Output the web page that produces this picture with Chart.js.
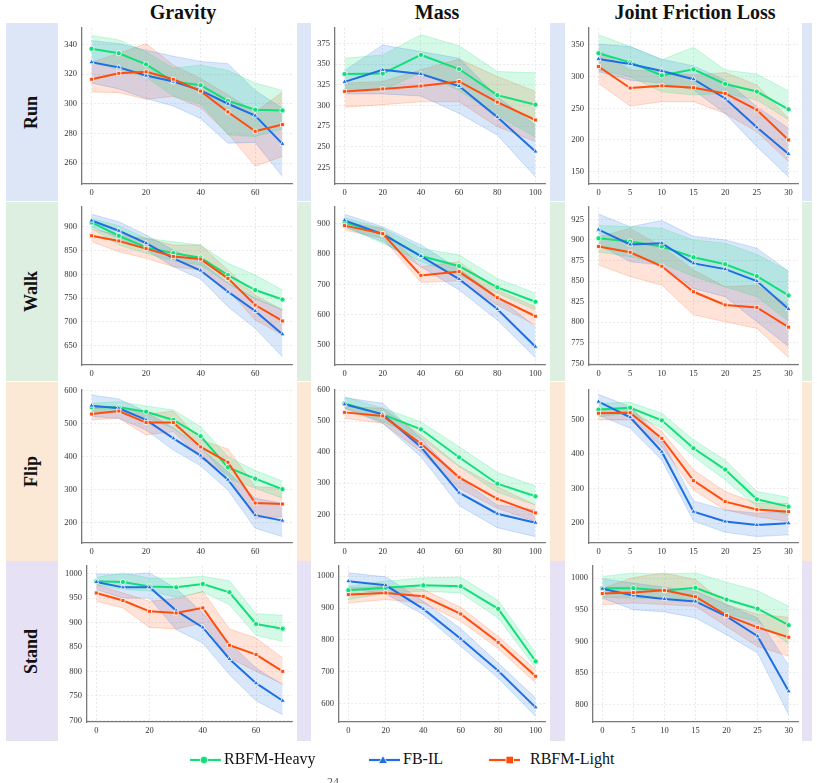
<!DOCTYPE html>
<html><head><meta charset="utf-8">
<script src="https://cdn.jsdelivr.net/npm/chart.js@4.4.1/dist/chart.umd.min.js"></script>
<style>
body{margin:0;width:817px;height:783px;position:relative;overflow:hidden;background:#fff;font-family:"Liberation Serif","Times New Roman",serif;color:#111;}
.row{position:absolute;left:6px;width:806px;}
.panel{position:absolute;background:#fff;}
.rowlabel{position:absolute;left:6px;width:52px;display:flex;align-items:center;justify-content:center;}
.rowlabel span{transform:rotate(-90deg);font-weight:bold;font-size:18px;white-space:nowrap;display:block;}
.coltitle{position:absolute;top:1px;font-weight:bold;font-size:20px;transform:translateX(-50%);white-space:nowrap;}
canvas{position:absolute;}
.leg{position:absolute;font-size:16px;white-space:nowrap;}
</style>
</head><body>
<script>
// ---------- categories / ticks ----------
const rowNames = ["Run", "Walk", "Flip", "Stand"];
const colNames = ["Gravity", "Mass", "Joint Friction Loss"];
const seriesNames = ["RBFM-Heavy", "FB-IL", "RBFM-Light"];
const gravityX = [0, 10, 20, 30, 40, 50, 60, 70];
const massX = [0, 20, 40, 60, 80, 100];
const frictionX = [0, 5, 10, 15, 20, 25, 30];
const gravityTicks = [0, 20, 40, 60];
const massTicks = [0, 20, 40, 60, 80, 100];
const frictionTicks = [0, 5, 10, 15, 20, 25, 30];

const runGravityTicks = [260, 280, 300, 320, 340];
const runMassTicks = [225, 250, 275, 300, 325, 350, 375];
const runFrictionTicks = [150, 200, 250, 300, 350];
const walkGravityTicks = [650, 700, 750, 800, 850, 900];
const walkMassTicks = [500, 600, 700, 800, 900];
const walkFrictionTicks = [750, 775, 800, 825, 850, 875, 900, 925];
const flipGravityTicks = [200, 300, 400, 500, 600];
const flipMassTicks = [200, 300, 400, 500, 600];
const flipFrictionTicks = [200, 300, 400, 500];
const standGravityTicks = [700, 750, 800, 850, 900, 950, 1000];
const standMassTicks = [600, 700, 800, 900, 1000];
const standFrictionTicks = [800, 850, 900, 950, 1000];

// ---------- Run ----------
const runGravityHeavy   = [337, 334, 326.5, 315, 312.5, 302, 296, 295.5];
const runGravityHeavyLo = [328, 323, 318, 305, 300, 279, 278, 283];
const runGravityHeavyHi = [346, 343, 335, 324, 326, 322.5, 314, 309];
const runGravityFB      = [328, 324.5, 319, 315, 309, 300, 292, 273];
const runGravityFBLo    = [314, 310, 303.5, 298.5, 290, 273.5, 274, 251];
const runGravityFBHi    = [342.5, 340.5, 336, 332, 328.5, 327, 309, 297];
const runGravityLight   = [316.5, 320.5, 321.5, 316.5, 308.5, 294.5, 281.5, 286];
const runGravityLightLo = [308, 307.5, 303, 305, 297.5, 280, 258, 264.5];
const runGravityLightHi = [328, 334, 340.5, 326, 317, 306, 294.5, 308];

const runMassHeavy   = [338, 338.5, 361, 344, 312.5, 301];
const runMassHeavyLo = [320, 318, 340, 318, 288, 262];
const runMassHeavyHi = [357, 361, 385.5, 372, 341, 339.5];
const runMassFB      = [328.5, 343, 338, 323.5, 286, 244.5];
const runMassFBLo    = [314, 314, 311.5, 290.5, 264.5, 214];
const runMassFBHi    = [342, 373, 365, 357, 310.5, 276.5];
const runMassLight   = [317, 320, 323.5, 329, 304, 282.5];
const runMassLightLo = [298, 301, 304.5, 304.5, 274.5, 256.5];
const runMassLightHi = [327, 329, 343, 356, 335, 317];

const runFrictionHeavy   = [337, 322.5, 302, 311.5, 288.5, 276.5, 248.5];
const runFrictionHeavyLo = [310.5, 300, 276, 271, 273.5, 263, 232];
const runFrictionHeavyHi = [366, 347.5, 326.5, 346.5, 310.5, 304, 277.5];
const runFrictionFB      = [328, 320, 309, 296, 265.5, 220, 178];
const runFrictionFBLo    = [308, 294.5, 289.5, 279, 242, 189.5, 142];
const runFrictionFBHi    = [351.5, 347.5, 327.5, 317, 294.5, 252.5, 218.5];
const runFrictionLight   = [316, 282, 285.5, 282.5, 273.5, 247.5, 200];
const runFrictionLightLo = [289.5, 253.5, 260.5, 260.5, 242, 213, 166];
const runFrictionLightHi = [342, 310.5, 308, 302.5, 306.5, 287, 234];

// ---------- Walk ----------
const walkGravityHeavy   = [909, 881, 856.5, 844.5, 835, 798.5, 767, 747];
const walkGravityHeavyLo = [896.5, 861.5, 844, 828, 819.5, 781, 749.5, 726];
const walkGravityHeavyHi = [917.5, 902, 875.5, 868.5, 861.5, 823, 798.5, 767];
const walkGravityFB      = [913, 891.5, 865.5, 833.5, 808, 763.5, 723, 674];
const walkGravityFBLo    = [900, 875.5, 851, 816, 790, 732, 686.5, 627];
const walkGravityFBHi    = [926, 910.5, 882.5, 851, 826.5, 781, 749.5, 725];
const walkGravityLight   = [881, 870, 854, 837.5, 832, 791.5, 735.5, 702];
const walkGravityLightLo = [868.5, 847.5, 833.5, 816, 809, 767, 704, 672.5];
const walkGravityLightHi = [895, 882.5, 875.5, 861.5, 861.5, 809, 756.5, 725];

const walkMassHeavy   = [905.5, 866, 794, 761, 690.5, 643];
const walkMassHeavyLo = [891, 836, 775.5, 731.5, 671, 615.5];
const walkMassHeavyHi = [921, 885.5, 819.5, 797.5, 720, 671];
const walkMassFB      = [912, 866, 794, 718, 619, 494.5];
const walkMassFBLo    = [891, 841.5, 759, 682, 582.5, 458];
const walkMassFBHi    = [932, 891, 830.5, 751, 660, 560.5];
const walkMassLight   = [894.5, 868, 730, 742.5, 656.5, 595];
const walkMassLightLo = [880, 852.5, 707, 711.5, 632, 566];
const walkMassLightHi = [905.5, 885.5, 759, 775.5, 682, 626.5];

const walkFrictionHeavy   = [902, 898, 892, 879, 870.5, 856, 832.5];
const walkFrictionHeavyLo = [885.5, 879.5, 871.5, 855.5, 843, 831, 801.5];
const walkFrictionHeavyHi = [917.5, 916, 914, 900, 896, 882.5, 862];
const walkFrictionFB      = [912.5, 894.5, 896, 871.5, 864.5, 850, 816];
const walkFrictionFBLo    = [894, 873.5, 869.5, 841, 831, 800.5, 770.5];
const walkFrictionFBHi    = [931.5, 916, 923.5, 904.5, 900, 890, 862];
const walkFrictionLight   = [892, 885, 868, 837, 821, 818, 794];
const walkFrictionLightLo = [869.5, 855.5, 845, 809, 800.5, 792.5, 757];
const walkFrictionLightHi = [904, 914, 892, 863.5, 843, 845, 821];

// ---------- Flip ----------
const flipGravityHeavy   = [549.5, 549.5, 536, 511, 461.5, 367, 332.5, 300.5];
const flipGravityHeavyLo = [536, 534, 518, 485.5, 430, 333.5, 303.5, 273];
const flipGravityHeavyHi = [561.5, 566.5, 553.5, 541.5, 490.5, 399.5, 357, 325.5];
const flipGravityFB      = [554.5, 546.5, 511, 455, 402.5, 329.5, 221.5, 205];
const flipGravityFBLo    = [521, 516, 480.5, 419.5, 372, 298, 182, 156.5];
const flipGravityFBHi    = [587, 574.5, 536, 485.5, 425, 354, 273, 257.5];
const flipGravityLight   = [529, 538, 503, 503, 429, 382.5, 258.5, 255.5];
const flipGravityLightLo = [511, 516, 465.5, 475.5, 394.5, 344, 212, 217];
const flipGravityLightHi = [546.5, 554.5, 528, 538, 450, 423, 308.5, 303.5];

const flipMassHeavy   = [557, 521.5, 473.5, 383.5, 298.5, 258];
const flipMassHeavyLo = [541, 498, 444.5, 353.5, 271, 230];
const flipMassHeavyHi = [578.5, 541, 498, 417.5, 335, 291];
const flipMassFB      = [554, 521.5, 416.5, 269.5, 202, 173];
const flipMassFBLo    = [541, 493, 385.5, 228, 157, 128];
const flipMassFBHi    = [575.5, 557, 444.5, 316, 230, 214];
const flipMassLight   = [528, 516.5, 427.5, 319, 249.5, 204.5];
const flipMassLightLo = [509, 493, 401.5, 283.5, 219.5, 176.5];
const flipMassLightHi = [546.5, 541, 455, 356.5, 289, 230];

const flipFrictionHeavy   = [528, 533.5, 497, 416.5, 355, 269, 248];
const flipFrictionHeavyLo = [507.5, 517.5, 474, 392.5, 325, 248, 224];
const flipFrictionHeavyHi = [546, 549, 517.5, 440.5, 382.5, 291.5, 275];
const flipFrictionFB      = [551, 506, 406.5, 233.5, 205, 195, 200];
const flipFrictionFBLo    = [512.5, 474, 382.5, 206.5, 174, 161.5, 166.5];
const flipFrictionFBHi    = [572, 536.5, 440.5, 264.5, 238.5, 229, 233.5];
const flipFrictionLight   = [517.5, 519, 445, 323, 262.5, 239.5, 233.5];
const flipFrictionLightLo = [498, 498, 421, 296, 238.5, 219, 205];
const flipFrictionLightHi = [531.5, 531.5, 464.5, 354, 291.5, 257.5, 257.5];

// ---------- Stand ----------
const standGravityHeavy   = [984.5, 983, 974, 972, 979, 962, 897, 887.5];
const standGravityHeavyLo = [977.5, 967.5, 964.5, 951.5, 962.5, 936.5, 874, 861.5];
const standGravityHeavyHi = [992.5, 1001.5, 991, 991, 994.5, 985.5, 918, 915];
const standGravityFB      = [983, 972, 972, 924.5, 890, 825.5, 776, 740];
const standGravityFBLo    = [967.5, 950, 950, 885.5, 858, 793.5, 740, 711.5];
const standGravityFBHi    = [999.5, 998, 1001.5, 969.5, 919.5, 858, 807, 772.5];
const standGravityLight   = [960.5, 945, 923, 919.5, 930, 853.5, 834.5, 800];
const standGravityLightLo = [943.5, 930, 890, 887, 899, 827.5, 800, 774.5];
const standGravityLightHi = [977.5, 960.5, 943.5, 949, 964, 887, 868.5, 827.5];

const standMassHeavy   = [956, 963.5, 971.5, 968.5, 897.5, 733];
const standMassHeavyLo = [926.5, 947.5, 953, 947.5, 869, 712];
const standMassHeavyHi = [968.5, 984.5, 995, 997, 923.5, 759];
const standMassFB      = [984.5, 971.5, 897.5, 804, 703.5, 588.5];
const standMassFBLo    = [961.5, 944.5, 879.5, 780, 680.5, 560];
const standMassFBHi    = [1010.5, 998, 921.5, 835.5, 727.5, 618];
const standMassLight   = [942.5, 947.5, 937, 881.5, 792.5, 686];
const standMassLightLo = [916, 926.5, 916, 858.5, 773, 665];
const standMassLightHi = [963.5, 968.5, 958, 902.5, 811.5, 707];

const standFrictionHeavy   = [984, 984, 980.5, 984.5, 966, 951.5, 925.5];
const standFrictionHeavyLo = [969.5, 968.5, 967.5, 966, 943, 931.5, 896];
const standFrictionHeavyHi = [1002.5, 1008, 1006.5, 1008, 993.5, 980, 955.5];
const standFrictionFB      = [983, 972.5, 967, 963, 939.5, 908, 821];
const standFrictionFBLo    = [968.5, 950, 946.5, 937, 910.5, 881.5, 784];
const standFrictionFBHi    = [999, 992, 985.5, 979, 958, 937, 862];
const standFrictionLight   = [975.5, 977, 980.5, 970.5, 941, 922, 906.5];
const standFrictionLightLo = [958, 960.5, 958, 955.5, 923.5, 892, 876.5];
const standFrictionLightHi = [984, 1001, 1008, 997.5, 958, 943, 938];

// ---------- styling ----------
const COLORS = ["#12df78", "#1f6fe3", "#ff4d0d"];
const FILLS  = ["rgba(18,223,120,0.18)", "rgba(31,111,227,0.17)", "rgba(255,77,13,0.16)"];
const EDGES  = ["rgba(18,223,120,0.30)", "rgba(31,111,227,0.28)", "rgba(255,77,13,0.28)"];
const SHAPES = ["circle", "triangle", "rect"];
const RADII  = [2.6, 3.0, 2.8];

const rowColors = ["#dce6f6", "#dcefe1", "#fbe8d5", "#e7e1f6"];
const rowBox = [[23, 178], [202, 179], [382, 179], [561, 180]];
const panelX = [[58, 239], [311, 239], [565, 237]];

// chart-area geometry and y-limits
const rowTB = [[28, 184], [207, 365], [390, 543], [566, 722]];
const colLR = [
  [[82, 292], [335, 545], [589, 798]],
  [[82, 292], [335, 545], [589, 798]],
  [[82, 292], [335, 545], [589, 798]],
  [[87.3, 292], [339.3, 545], [593.3, 798]]
];
const yLimits = [
  [[246, 351], [205.3, 393.5], [130.5, 376.8]],
  [[609.5, 941.4], [434, 956], [748, 940]],
  [[137, 602], [107.7, 600], [143, 584.6]],
  [[696.5, 1015.7], [542.5, 1032], [772.6, 1019]]
];
const yTicks = [
  [runGravityTicks, runMassTicks, runFrictionTicks],
  [walkGravityTicks, walkMassTicks, walkFrictionTicks],
  [flipGravityTicks, flipMassTicks, flipFrictionTicks],
  [standGravityTicks, standMassTicks, standFrictionTicks]
];
const xCats = [gravityX, massX, frictionX];
const xTicks = [gravityTicks, massTicks, frictionTicks];
const xLimits = [[-3.5, 73.5], [-5, 105], [-1.5, 31.5]];

const panelSeries = [
  [
    [[runGravityHeavy, runGravityHeavyLo, runGravityHeavyHi], [runGravityFB, runGravityFBLo, runGravityFBHi], [runGravityLight, runGravityLightLo, runGravityLightHi]],
    [[runMassHeavy, runMassHeavyLo, runMassHeavyHi], [runMassFB, runMassFBLo, runMassFBHi], [runMassLight, runMassLightLo, runMassLightHi]],
    [[runFrictionHeavy, runFrictionHeavyLo, runFrictionHeavyHi], [runFrictionFB, runFrictionFBLo, runFrictionFBHi], [runFrictionLight, runFrictionLightLo, runFrictionLightHi]]
  ],
  [
    [[walkGravityHeavy, walkGravityHeavyLo, walkGravityHeavyHi], [walkGravityFB, walkGravityFBLo, walkGravityFBHi], [walkGravityLight, walkGravityLightLo, walkGravityLightHi]],
    [[walkMassHeavy, walkMassHeavyLo, walkMassHeavyHi], [walkMassFB, walkMassFBLo, walkMassFBHi], [walkMassLight, walkMassLightLo, walkMassLightHi]],
    [[walkFrictionHeavy, walkFrictionHeavyLo, walkFrictionHeavyHi], [walkFrictionFB, walkFrictionFBLo, walkFrictionFBHi], [walkFrictionLight, walkFrictionLightLo, walkFrictionLightHi]]
  ],
  [
    [[flipGravityHeavy, flipGravityHeavyLo, flipGravityHeavyHi], [flipGravityFB, flipGravityFBLo, flipGravityFBHi], [flipGravityLight, flipGravityLightLo, flipGravityLightHi]],
    [[flipMassHeavy, flipMassHeavyLo, flipMassHeavyHi], [flipMassFB, flipMassFBLo, flipMassFBHi], [flipMassLight, flipMassLightLo, flipMassLightHi]],
    [[flipFrictionHeavy, flipFrictionHeavyLo, flipFrictionHeavyHi], [flipFrictionFB, flipFrictionFBLo, flipFrictionFBHi], [flipFrictionLight, flipFrictionLightLo, flipFrictionLightHi]]
  ],
  [
    [[standGravityHeavy, standGravityHeavyLo, standGravityHeavyHi], [standGravityFB, standGravityFBLo, standGravityFBHi], [standGravityLight, standGravityLightLo, standGravityLightHi]],
    [[standMassHeavy, standMassHeavyLo, standMassHeavyHi], [standMassFB, standMassFBLo, standMassFBHi], [standMassLight, standMassLightLo, standMassLightHi]],
    [[standFrictionHeavy, standFrictionHeavyLo, standFrictionHeavyHi], [standFrictionFB, standFrictionFBLo, standFrictionFBHi], [standFrictionLight, standFrictionLightLo, standFrictionLightHi]]
  ]
];

// ---------- page structure ----------
function el(tag, cls, style, text) {
  const e = document.createElement(tag);
  if (cls) e.className = cls;
  Object.assign(e.style, style || {});
  if (text !== undefined) e.textContent = text;
  document.body.appendChild(e);
  return e;
}

rowBox.forEach((rb, r) => {
  el('div', 'row', {top: rb[0] + 'px', height: rb[1] + 'px', background: rowColors[r]});
  panelX.forEach(px => el('div', 'panel', {left: px[0] + 'px', width: px[1] + 'px', top: rb[0] + 'px', height: rb[1] + 'px'}));
  const lab = el('div', 'rowlabel', {top: rb[0] + 'px', height: rb[1] + 'px'});
  const sp = document.createElement('span'); sp.textContent = rowNames[r]; lab.appendChild(sp);
});
const titleX = [183, 437, 695];
colNames.forEach((n, c) => el('div', 'coltitle', {left: titleX[c] + 'px'}, n));

const tickFont = {family: "'Liberation Serif', 'Times New Roman', serif", size: 8.5};
const plainNum = v => String(v);

function makePanel(r, c) {
  const [l, rr] = colLR[r][c];
  const [t, b] = rowTB[r];
  const padL = 40, padT = 12, padR = 8, axH = 22;
  const w = Math.round(rr - l + padL + padR);
  const h = Math.round(b - t + padT + axH);
  const cv = document.createElement('canvas');
  cv.width = w; cv.height = h;
  cv.style.width = w + 'px'; cv.style.height = h + 'px';
  cv.style.left = (l - padL) + 'px'; cv.style.top = (t - padT) + 'px';
  document.body.appendChild(cv);

  const xs = xCats[c];
  const pts = arr => arr.map((v, i) => ({x: xs[i], y: v}));
  const ds = [];
  panelSeries[r][c].forEach((s, k) => {
    const hiIdx = ds.length;
    ds.push({data: pts(s[2]), fill: hiIdx + 1, backgroundColor: FILLS[k], borderColor: EDGES[k], borderWidth: 0.7, pointRadius: 0, order: 20 + k, tension: 0});
    ds.push({data: pts(s[1]), fill: false, borderColor: EDGES[k], borderWidth: 0.7, pointRadius: 0, order: 20 + k, tension: 0});
  });
  panelSeries[r][c].forEach((s, k) => {
    ds.push({label: seriesNames[k], data: pts(s[0]), fill: false, borderColor: COLORS[k], backgroundColor: COLORS[k],
      borderWidth: 2, pointStyle: SHAPES[k], pointRadius: RADII[k], pointBackgroundColor: COLORS[k],
      pointBorderColor: '#ffffff', pointBorderWidth: 0.8, order: 3 - k, tension: 0});
  });

  new Chart(cv, {
    type: 'line',
    data: {datasets: ds},
    options: {
      responsive: false, animation: false, devicePixelRatio: 1,
      layout: {padding: {left: 0, top: padT, right: padR, bottom: 0}},
      plugins: {legend: {display: false}, tooltip: {enabled: false}},
      scales: {
        x: {
          type: 'linear', min: xLimits[c][0], max: xLimits[c][1],
          afterBuildTicks: s => { s.ticks = xTicks[c].map(v => ({value: v})); },
          afterFit: s => { s.height = axH; },
          grid: {color: '#e4e4e4', lineWidth: 0.8, drawTicks: false},
          border: {color: '#7a7a7a', width: 1.3, dash: [2, 2]},
          ticks: {padding: 4, font: tickFont, color: '#333', maxRotation: 0, autoSkip: false, callback: plainNum}
        },
        y: {
          type: 'linear', min: yLimits[r][c][0], max: yLimits[r][c][1],
          afterBuildTicks: s => { s.ticks = yTicks[r][c].map(v => ({value: v})); },
          afterFit: s => { s.width = padL; },
          grid: {color: '#e4e4e4', lineWidth: 0.8, drawTicks: false},
          border: {color: '#7a7a7a', width: 1.3, dash: [2, 2]},
          ticks: {padding: 5, font: tickFont, color: '#333', autoSkip: false, callback: plainNum}
        }
      }
    }
  });
}
for (let r = 0; r < 4; r++) for (let c = 0; c < 3; c++) makePanel(r, c);

// ---------- legend ----------
const legItems = [
  {x: 189, tx: 224},
  {x: 368, tx: 403},
  {x: 488, tx: 530}
];
legItems.forEach((it, k) => {
  const svgNS = 'http://www.w3.org/2000/svg';
  const svg = document.createElementNS(svgNS, 'svg');
  svg.setAttribute('width', '34'); svg.setAttribute('height', '14');
  svg.style.position = 'absolute'; svg.style.left = it.x + 'px'; svg.style.top = '753px';
  const ln = document.createElementNS(svgNS, 'line');
  ln.setAttribute('x1', '1'); ln.setAttribute('x2', '32'); ln.setAttribute('y1', '7'); ln.setAttribute('y2', '7');
  ln.setAttribute('stroke', COLORS[k]); ln.setAttribute('stroke-width', '2.2');
  svg.appendChild(ln);
  let m;
  if (k === 0) { m = document.createElementNS(svgNS, 'circle'); m.setAttribute('cx', '15'); m.setAttribute('cy', '7'); m.setAttribute('r', '3.8'); }
  else if (k === 1) { m = document.createElementNS(svgNS, 'polygon'); m.setAttribute('points', '15,2.5 19.5,10.5 10.5,10.5'); }
  else { m = document.createElementNS(svgNS, 'rect'); m.setAttribute('x', '18'); m.setAttribute('y', '3.2'); m.setAttribute('width', '7.6'); m.setAttribute('height', '7.6'); }
  m.setAttribute('fill', COLORS[k]); m.setAttribute('stroke', '#fff'); m.setAttribute('stroke-width', '0.8');
  svg.appendChild(m);
  document.body.appendChild(svg);
  el('div', 'leg', {left: it.tx + 'px', top: '750px'}, seriesNames[k]);
});
el('div', '', {position: 'absolute', left: '327px', top: '775px', fontSize: '12px', color: '#555'}, '24');
</script>
</body></html>
